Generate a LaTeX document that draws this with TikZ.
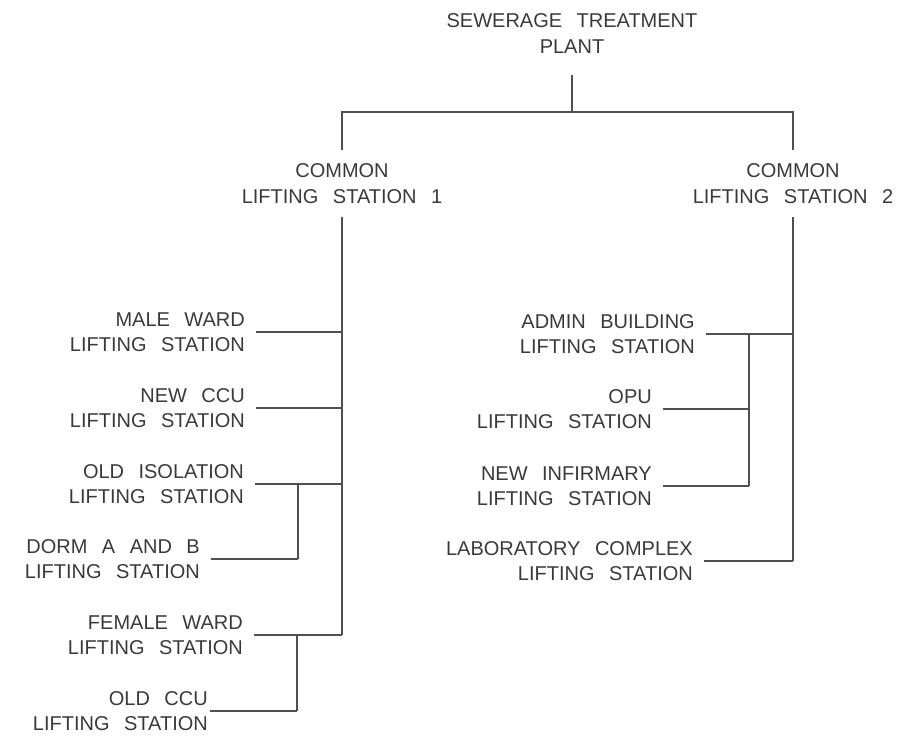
\documentclass[tikz,border=0pt]{standalone}
\usepackage{fontspec}
\setmainfont[WordSpace=2.6]{Liberation Sans}
\usepackage{xcolor}
\definecolor{inkcolor}{RGB}{58,58,58}
\definecolor{pipecolor}{RGB}{80,80,80}
\tikzset{
    basetxt/.style={inner sep=0pt, text=inkcolor,
        font=\fontsize{20}{25.5}\selectfont},
    hubtxt/.style={basetxt, align=center},
    leaftxt/.style={basetxt, align=right, anchor=east},
    pipe/.style={draw=pipecolor, line width=1.3pt},
    feed/.style={pipe, shorten <=11pt}
}

\begin{document}
\begin{tikzpicture}[x=1pt, y=-1pt]
\useasboundingbox (0,0) rectangle (900,740);

% Plant and common stations
\node[hubtxt] (stp)  at (572, 33.5)  {SEWERAGE TREATMENT\\PLANT};
\node[hubtxt] (cls1) at (342, 183.5) {COMMON\\LIFTING STATION 1};
\node[hubtxt] (cls2) at (793, 183.5) {COMMON\\LIFTING STATION 2};

\coordinate (bus) at (0, 112);

\draw[pipe] ([yshift=-22pt]stp.south) -- (stp.south |- bus);
\draw[pipe] ([yshift=13pt]cls1.north) -- (cls1.north |- bus)
    -- (cls2.north |- bus) -- ([yshift=13pt]cls2.north);

% Stations on line 1
\node[leaftxt] (male)   at (245, 332) {MALE WARD\\LIFTING STATION};
\node[leaftxt] (nccu)   at (245, 408) {NEW CCU\\LIFTING STATION};
\node[leaftxt] (oiso)   at (244, 484) {OLD ISOLATION\\LIFTING STATION};
\node[leaftxt] (dorm)   at (200, 559) {DORM A AND B\\LIFTING STATION};
\node[leaftxt] (female) at (243, 635) {FEMALE WARD\\LIFTING STATION};
\node[leaftxt] (occu)   at (208, 711) {OLD CCU\\LIFTING STATION};

\coordinate (subA) at (298, 0);
\coordinate (subB) at (297, 0);

\draw[pipe] ([yshift=-13pt]cls1.south) -- (cls1.south |- female.east);
\draw[feed] (male.east)   -- (male.east -| cls1.south);
\draw[feed] (nccu.east)   -- (nccu.east -| cls1.south);
\draw[feed] (oiso.east)   -- (oiso.east -| cls1.south);
\draw[feed] (female.east) -- (female.east -| cls1.south);
\draw[pipe] (oiso.east -| subA) -- (dorm.east -| subA);
\draw[feed] (dorm.east)   -- (dorm.east -| subA);
\draw[pipe] (female.east -| subB) -- (occu.east -| subB);
\draw[feed, shorten <=2pt] (occu.east) -- (occu.east -| subB);

% Stations on line 2
\node[leaftxt] (admin)  at (695, 334) {ADMIN BUILDING\\LIFTING STATION};
\node[leaftxt] (opu)    at (652, 409) {OPU\\LIFTING STATION};
\node[leaftxt] (ninf)   at (652, 486) {NEW INFIRMARY\\LIFTING STATION};
\node[leaftxt] (lab)    at (693, 561) {LABORATORY COMPLEX\\LIFTING STATION};

\coordinate (subC) at (749, 0);

\draw[pipe] ([yshift=-13pt]cls2.south) -- (cls2.south |- lab.east);
\draw[feed] (admin.east) -- (admin.east -| cls2.south);
\draw[feed] (lab.east)   -- (lab.east -| cls2.south);
\draw[pipe] (admin.east -| subC) -- (ninf.east -| subC);
\draw[feed] (opu.east)   -- (opu.east -| subC);
\draw[feed] (ninf.east)  -- (ninf.east -| subC);

\end{tikzpicture}
\end{document}
